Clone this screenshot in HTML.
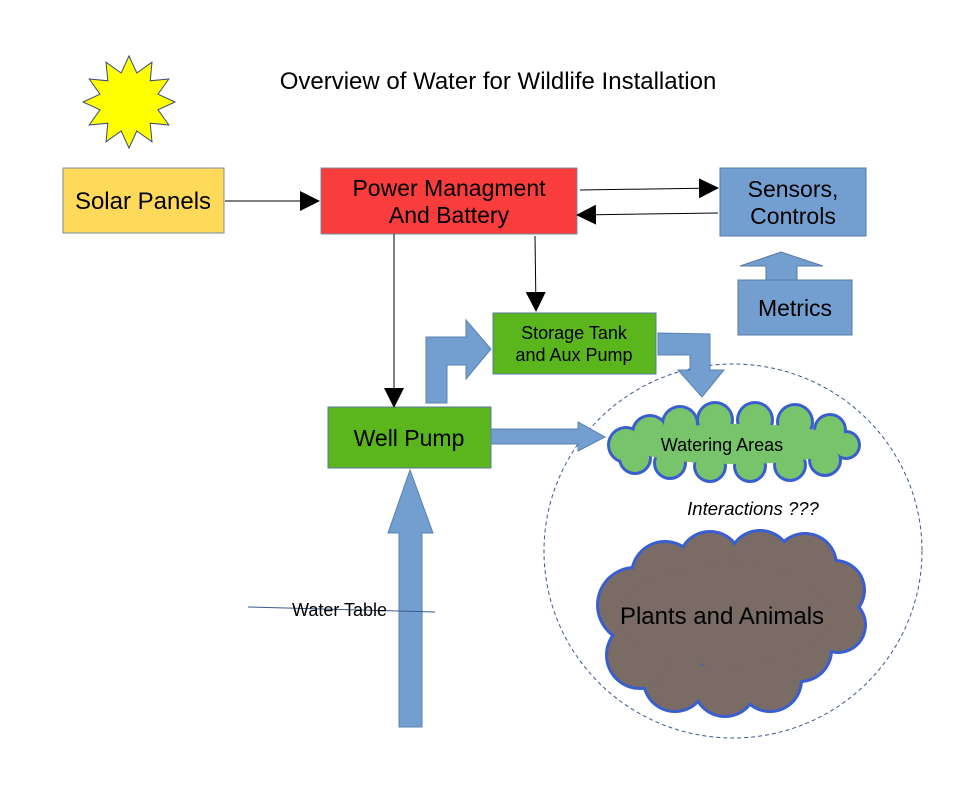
<!DOCTYPE html>
<html><head><meta charset="utf-8"><style>
body{margin:0;background:#fff}
svg{display:block}
text{font-family:"Liberation Sans",sans-serif}
</style></head><body>
<svg id="s" width="963" height="794" viewBox="0 0 963 794" xmlns="http://www.w3.org/2000/svg">
<defs>
<marker id="ah" markerWidth="20" markerHeight="20" refX="18" refY="10" orient="auto" markerUnits="userSpaceOnUse" viewBox="0 0 20 20"><path d="M0,0 L20,10 L0,20z" fill="#000"/></marker>
</defs>
<rect width="963" height="794" fill="#fff"/>
<text x="498" y="89" font-size="24" text-anchor="middle" fill="#000">Overview of Water for Wildlife Installation</text>
<polygon id="sun" fill="#ffff00" stroke="#3a4a7a" stroke-width="1"/>

<ellipse cx="733" cy="551" rx="189" ry="187" fill="none" stroke="#3a5a8a" stroke-width="1" stroke-dasharray="4,3"/>

<rect x="63" y="168" width="161" height="65" fill="#ffd95a" stroke="#7a8aa0"/>
<text x="143" y="209" font-size="24" text-anchor="middle">Solar Panels</text>
<rect x="321" y="168" width="256" height="66" fill="#f93c3c" stroke="#7a8aa0"/>
<text x="449" y="196" font-size="23" text-anchor="middle">Power Managment</text>
<text x="449" y="223" font-size="23" text-anchor="middle">And Battery</text>
<rect x="720" y="168" width="146" height="68" fill="#729fcf" stroke="#5a7aa0"/>
<text x="793" y="197" font-size="23" text-anchor="middle">Sensors,</text>
<text x="793" y="224" font-size="23" text-anchor="middle">Controls</text>
<rect x="738" y="280" width="114" height="55" fill="#729fcf" stroke="#5a7aa0"/>
<text x="795" y="316" font-size="23" text-anchor="middle">Metrics</text>
<polygon points="766,280 766,266 740,266 781,252 823,266 797,266 797,280" fill="#729fcf" stroke="#5a7aa0"/>
<rect x="493" y="313" width="163" height="61" fill="#5bb51c" stroke="#5a7aa0"/>
<text x="574" y="339" font-size="18" text-anchor="middle">Storage Tank</text>
<text x="574" y="361" font-size="18" text-anchor="middle">and Aux Pump</text>
<rect x="328" y="407" width="163" height="61" fill="#5bb51c" stroke="#5a7aa0"/>
<text x="409" y="446" font-size="23" text-anchor="middle">Well Pump</text>

<g stroke="#000" stroke-width="1" fill="none">
<line x1="225" y1="201" x2="318" y2="201" marker-end="url(#ah)"/>
<line x1="580" y1="190" x2="717" y2="188" marker-end="url(#ah)"/>
<line x1="718" y1="213" x2="578" y2="215" marker-end="url(#ah)"/>
<line x1="394" y1="234" x2="394" y2="406" marker-end="url(#ah)"/>
<line x1="535" y1="236" x2="536" y2="310" marker-end="url(#ah)"/>
</g>
<g fill="#729fcf" stroke="#5a80b0" stroke-width="1">
<polygon points="426,403 426,337 466,337 466,320 491,349 466,379 466,365 447,365 447,403"/>
<polygon points="658,333 710,334 710,370 724,370 702,397 678,370 690,370 690,355 658,355"/>
<polygon points="491,429 578,429 578,422 605,437 578,451 578,444 491,444"/>
<polygon points="399,727 399,533 388,533 410,470 433,533 422,533 422,727"/>
</g>
<line x1="248" y1="607" x2="435" y2="612" stroke="#3a5a8a" stroke-width="1"/>
<text x="292" y="616" font-size="18">Water Table</text>

<g id="wc"></g>
<text x="722" y="451" font-size="18" text-anchor="middle">Watering Areas</text>
<text x="753" y="515" font-size="18.5" font-style="italic" text-anchor="middle">Interactions ???</text>
<g id="pc"></g>
<text x="722" y="624" font-size="24" text-anchor="middle">Plants and Animals</text>
</svg>
<script>
var p=[];for(var i=0;i<24;i++){var a=-Math.PI/2+i*Math.PI/12,r=i%2?30:46;p.push((129+r*Math.cos(a)).toFixed(1)+","+(102+r*Math.sin(a)).toFixed(1));}
document.getElementById('sun').setAttribute('points',p.join(' '));
function cloud(id,circ,core,fill,stroke){var g=document.getElementById(id),s="";
circ.forEach(function(c){s+='<circle cx="'+c[0]+'" cy="'+c[1]+'" r="'+(c[2]+3)+'" fill="'+stroke+'"/>';});
circ.forEach(function(c){s+='<circle cx="'+c[0]+'" cy="'+c[1]+'" r="'+c[2]+'" fill="'+fill+'"/>';});
s+='<ellipse cx="'+core[0]+'" cy="'+core[1]+'" rx="'+core[2]+'" ry="'+core[3]+'" fill="'+fill+'"/>';
g.innerHTML=s;}
cloud('wc',[[626,445,16],[650,433,16],[680,424,16],[715,420,16],[755,420,16],[795,422,16],[830,430,14],[846,445,12],[825,460,14],[790,465,14],[750,466,14],[710,466,14],[670,463,14],[635,458,14]],[737,444,110,20],'#77c46a','#3a5ed0');
cloud('pc',[[635,605,36],[665,575,32],[710,563,30],[760,562,30],[805,565,30],[835,590,28],[838,625,26],[800,650,30],[770,680,30],[725,685,30],[675,680,30],[640,655,32],[735,615,50]],[725,615,105,50],'#7a6b64','#3a5ed0');
</script>
</body></html>
